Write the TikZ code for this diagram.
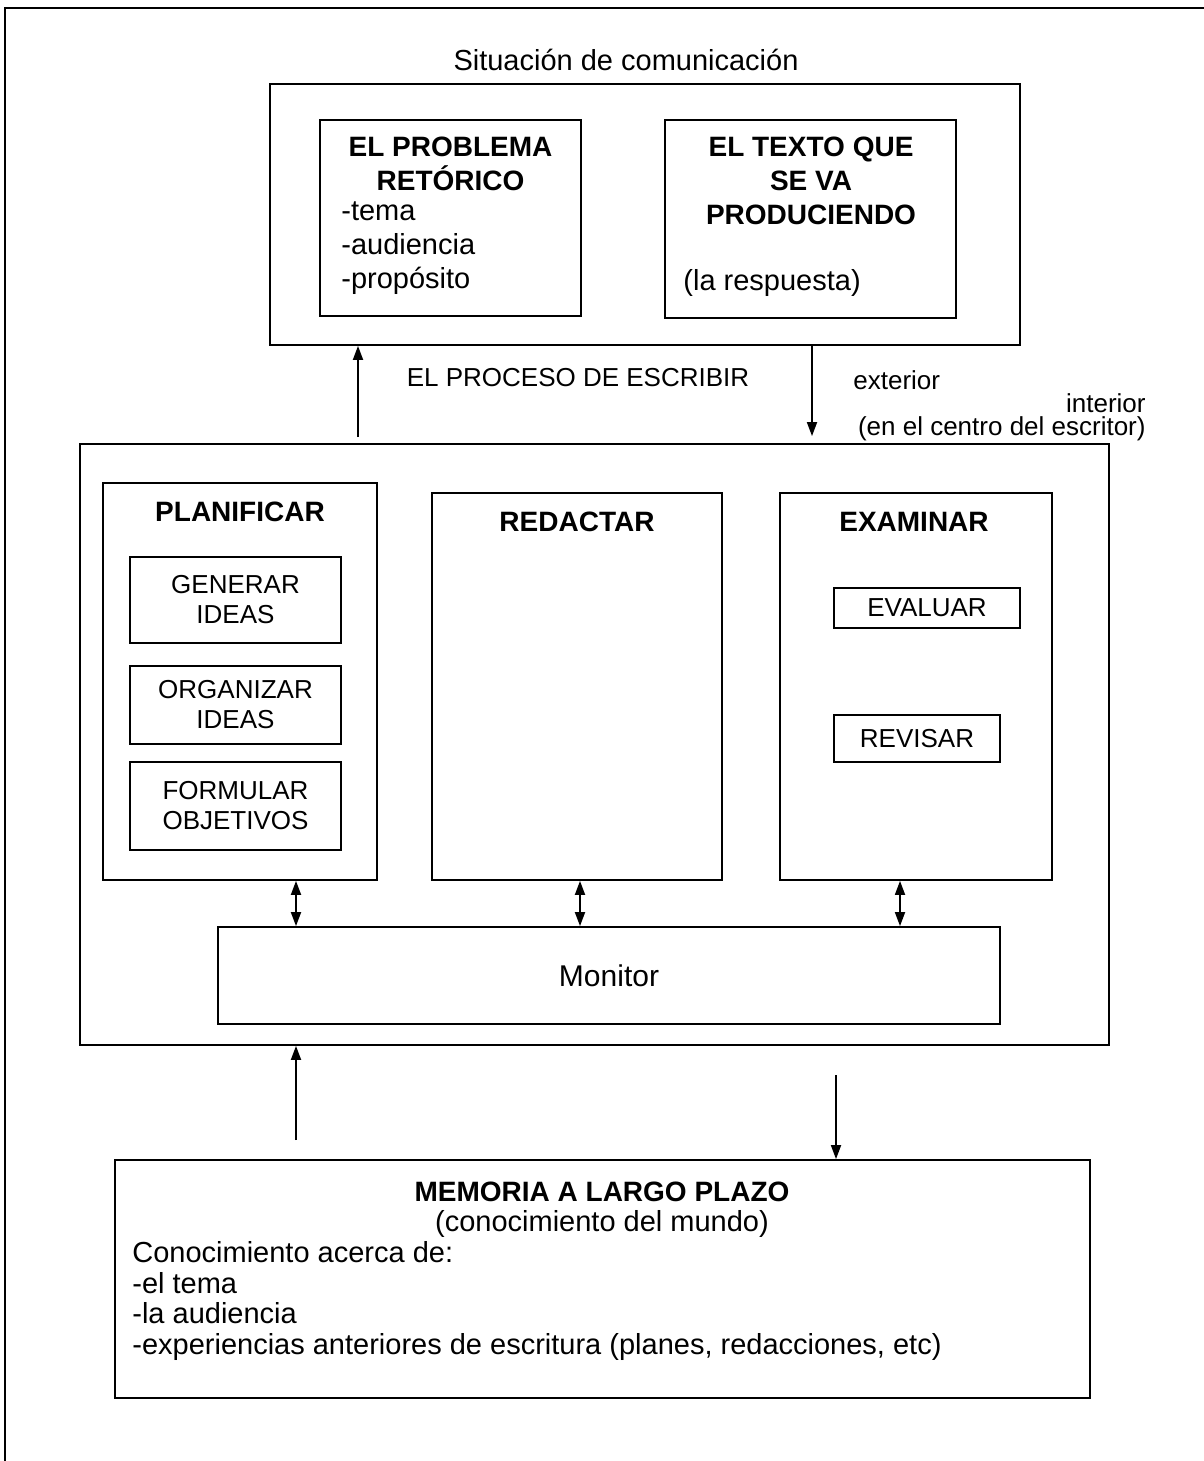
\documentclass[tikz,border=0pt]{standalone}
\usepackage{fontspec}
\setmainfont{Liberation Sans}
\usetikzlibrary{arrows.meta,positioning}

\begin{document}
\begin{tikzpicture}[x=0.5pt, y=-0.5pt, >={Triangle[length=7pt,width=5pt]},
  box/.style={draw, line width=0.9pt, inner sep=0pt},
  txt/.style={font=\fontsize{14.5}{17}\selectfont, inner sep=0pt},
  head/.style={font=\fontsize{14}{17}\selectfont\bfseries, align=center, inner sep=0pt},
  small/.style={font=\fontsize{13}{15}\selectfont, align=center, inner sep=0pt},
  conn/.style={line width=0.9pt}
]
\useasboundingbox (0,0) rectangle (1204,1461);
% frame round the page (open at right and bottom)
\draw[line width=1.2pt] (5,1461) -- (5,8) -- (1204,8);

% situacion de comunicacion
\node[txt] (sitlbl) at (626,60) {Situación de comunicación};
\node[box, minimum width=375pt, minimum height=130.5pt] (sit) at (645,214.5) {};
\node[box, minimum width=130.5pt, minimum height=98pt] (prob) at (450.5,218) {};
\node[head] (probtit) at (450.5,164) {EL PROBLEMA\\RETÓRICO};
\node[txt, align=left, anchor=west] (problist) at (341,248) {-tema\\-audiencia\\-propósito};
\node[box, minimum width=145.5pt, minimum height=99pt] (texto) at (810.5,219) {};
\node[head] (textotit) at (811,181) {EL TEXTO QUE\\SE VA\\PRODUCIENDO};
\node[txt, anchor=west] (resp) at (683,283) {(la respuesta)};

% el proceso de escribir
\node[small] (proclbl) at (578,378) {EL PROCESO DE ESCRIBIR};
\node[small, anchor=west] (ext) at (853,380) {exterior};
\node[small, anchor=east] (int) at (1146,403) {interior};
\node[small, anchor=east] (centro) at (1146,429) {(en el centro del escritor)};

\node[box, minimum width=514.5pt, minimum height=300.5pt] (proc) at (594.5,744.5) {};

\node[box, minimum width=137pt, minimum height=198.5pt] (plan) at (240,681.5) {};
\node[head] (plantit) at (240,512) {PLANIFICAR};
\node[box, small, minimum width=105.5pt, minimum height=43pt] (gen) at (235.5,600) {GENERAR\\IDEAS};
\node[box, small, minimum width=105.5pt, minimum height=39pt] (org) at (235.5,705) {ORGANIZAR\\IDEAS};
\node[box, small, minimum width=105.5pt, minimum height=44pt] (form) at (235.5,806) {FORMULAR\\OBJETIVOS};

\node[box, minimum width=145pt, minimum height=193.5pt] (red) at (577,686.5) {};
\node[head] (redtit) at (577,522) {REDACTAR};

\node[box, minimum width=136pt, minimum height=193.5pt] (exam) at (916,686.5) {};
\node[head] (examtit) at (914,522) {EXAMINAR};
\node[box, small, minimum width=93pt, minimum height=20pt] (eval) at (927,608) {EVALUAR};
\node[box, small, minimum width=83pt, minimum height=23.5pt] (rev) at (917,738.5) {REVISAR};

\node[box, font=\fontsize{15}{17}\selectfont, minimum width=391pt, minimum height=48.5pt] (mon) at (609,975.5) {Monitor};

% memoria a largo plazo
\node[box, minimum width=487.5pt, minimum height=119pt] (mem) at (602.5,1279) {};
\node[head] (memtit) at (602,1192) {MEMORIA A LARGO PLAZO};
\node[txt] (memsub) at (602,1224) {(conocimiento del mundo)};
\node[txt, align=left, anchor=west, font=\fontsize{14.5}{15.3}\selectfont] (memlist) at (132,1301)
  {Conocimiento acerca de:\\-el tema\\-la audiencia\\-experiencias anteriores de escritura (planes, redacciones, etc)};

% connectors
\coordinate (xup) at (358,0);
\coordinate (xdn) at (812,0);
\coordinate (xa) at (296,0);
\coordinate (xb) at (580,0);
\coordinate (xc) at (900,0);
\coordinate (memup) at (296,1140);
\coordinate (memdn) at (836,1075);

\draw[conn,->, shorten <=3pt] (proc.north -| xup) -- (sit.south -| xup);
\draw[conn,->, shorten >=3.5pt] (sit.south -| xdn) -- (proc.north -| xdn);
\draw[conn,<->] (plan.south -| xa) -- (mon.north -| xa);
\draw[conn,<->] (red.south -| xb) -- (mon.north -| xb);
\draw[conn,<->] (exam.south -| xc) -- (mon.north -| xc);
\draw[conn,->] (memup) -- (proc.south -| memup);
\draw[conn,->] (memdn) -- (mem.north -| memdn);
\end{tikzpicture}
\end{document}
